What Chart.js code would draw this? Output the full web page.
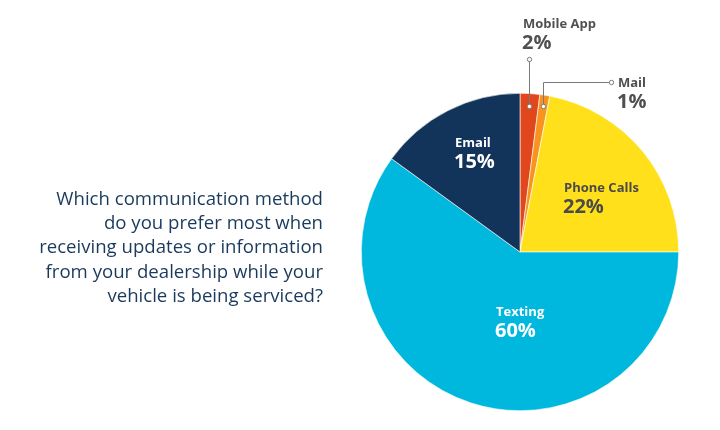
<!DOCTYPE html>
<html><head><meta charset="utf-8">
<script src="https://cdn.jsdelivr.net/npm/chart.js@4/dist/chart.umd.min.js"></script>
<style>html,body{margin:0;padding:0;background:#fff;}#wrap{width:720px;height:430px;}</style>
</head><body><div id="wrap"><canvas id="c" width="720" height="430"></canvas></div>
<script>
const categories = ["Mobile App", "Mail", "Phone Calls", "Texting", "Email"];
const values = [2, 1, 22, 60, 15];
const colors = ["#E0471C", "#F7931E", "#FFE01B", "#00B7DD", "#13345A"];
const question = ["Which communication method", "do you prefer most when", "receiving updates or information", "from your dealership while your", "vehicle is being serviced?"];

// label layout (offsets from pie center in px), text colour, and leader-line style
const labelLayout = [
  {x: 3, y: -224, color: "#505050", leader: [[9,-193],[9,-146]]},
  {x: 98, y: -165, color: "#505050", leader: [[23,-146],[23,-170],[91,-170]]},
  {x: 44, y: -60, color: "#4a4a4a"},
  {x: -24, y: 64, color: "#ffffff"},
  {x: -65, y: -105, color: "#ffffff"}
];

const labelPlugin = {
  id: 'labels',
  afterDraw(chart) {
    const ctx = chart.ctx;
    const meta = chart.getDatasetMeta(0);
    const cx = meta.data[0].x, cy = meta.data[0].y;
    ctx.save();
    // question text
    ctx.fillStyle = "#1A3A5C";
    ctx.font = "18.6px 'Open Sans', sans-serif";
    ctx.textAlign = "right";
    ctx.textBaseline = "alphabetic";
    question.forEach((l, i) => ctx.fillText(l, 323, 205 + i * 24.2));
    // slice labels
    ctx.textAlign = "left";
    categories.forEach((cat, i) => {
      const L = labelLayout[i];
      const x = cx + L.x, y = cy + L.y;
      if (L.leader) {
        ctx.strokeStyle = "#7a7a7a"; ctx.lineWidth = 1;
        ctx.beginPath();
        L.leader.forEach((p, j) => { const px = Math.round(cx + p[0]) + 0.5, py = Math.round(cy + p[1]) + 0.5; j ? ctx.lineTo(px, py) : ctx.moveTo(px, py); });
        ctx.stroke();
        [L.leader[0], L.leader[L.leader.length - 1]].forEach(p => {
          ctx.beginPath(); ctx.arc(Math.round(cx + p[0]) + 0.5, Math.round(cy + p[1]) + 0.5, 2.2, 0, Math.PI * 2);
          ctx.fillStyle = "#ffffff"; ctx.fill(); ctx.stroke();
        });
      }
      ctx.fillStyle = L.color;
      ctx.font = "bold 13px 'Open Sans', sans-serif";
      ctx.fillText(cat, x, y);
      ctx.font = "bold 20px 'Open Sans', sans-serif";
      ctx.fillText(values[i] + "%", x - 1, y + 21);
    });
    ctx.restore();
  }
};

new Chart(document.getElementById('c'), {
  type: 'pie',
  data: { labels: categories, datasets: [{ data: values, backgroundColor: colors, borderColor: "#ffffff", borderWidth: 0.6 }] },
  options: {
    responsive: false, animation: false, devicePixelRatio: 1,
    layout: { padding: { left: 361, right: 41, top: 93, bottom: 19 } },
    plugins: { legend: { display: false }, tooltip: { enabled: false } }
  },
  plugins: [labelPlugin]
});
</script></body></html>
